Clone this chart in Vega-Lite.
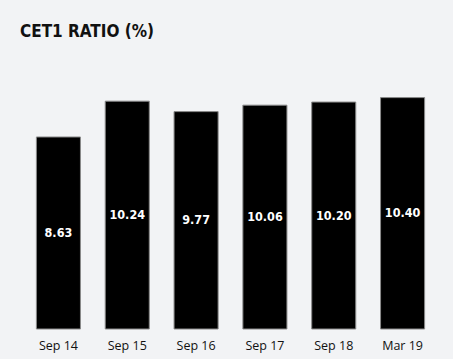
{
  "$schema": "https://vega.github.io/schema/vega-lite/v6.json",
  "autosize": {"type": "none"},
  "padding": {"left": 24, "top": 62, "right": 16, "bottom": 30},
  "width": 413,
  "height": 267,
  "background": "#f2f3f5",
  "title": {
    "text": "CET1 RATIO (%)",
    "anchor": "start",
    "font": "DejaVu Sans Condensed, Liberation Sans Narrow, Roboto",
    "fontSize": 17,
    "fontWeight": "bold",
    "color": "#111111",
    "dx": -4,
    "offset": 21
  },
  "data": {
    "values": [
      {"period": "Sep 14", "ratio": 8.63},
      {"period": "Sep 15", "ratio": 10.24},
      {"period": "Sep 16", "ratio": 9.77},
      {"period": "Sep 17", "ratio": 10.06},
      {"period": "Sep 18", "ratio": 10.20},
      {"period": "Mar 19", "ratio": 10.40}
    ]
  },
  "encoding": {
    "x": {
      "field": "period",
      "type": "nominal",
      "sort": null,
      "scale": {"paddingInner": 0.36, "paddingOuter": 0.18},
      "axis": {
        "title": null,
        "labelAngle": 0,
        "ticks": false,
        "domain": false,
        "labelPadding": 10,
        "labelFont": "Open Sans",
        "labelFontSize": 12.5,
        "labelColor": "#111111"
      }
    }
  },
  "layer": [
    {
      "mark": {"type": "bar", "color": "#000000", "stroke": "#8a8a8a", "strokeWidth": 1},
      "encoding": {
        "y": {"field": "ratio", "type": "quantitative", "scale": {"domain": [0, 12]}, "axis": null}
      }
    },
    {
      "transform": [{"calculate": "datum.ratio / 2", "as": "mid"}],
      "mark": {"type": "text", "color": "#ffffff", "font": "DejaVu Sans Condensed, Liberation Sans Narrow, Roboto", "fontSize": 12.5, "fontWeight": "bold", "baseline": "middle"},
      "encoding": {
        "y": {"field": "mid", "type": "quantitative", "scale": {"domain": [0, 12]}},
        "text": {"field": "ratio", "type": "quantitative", "format": ".2f"}
      }
    }
  ],
  "config": {"view": {"stroke": null}}
}
